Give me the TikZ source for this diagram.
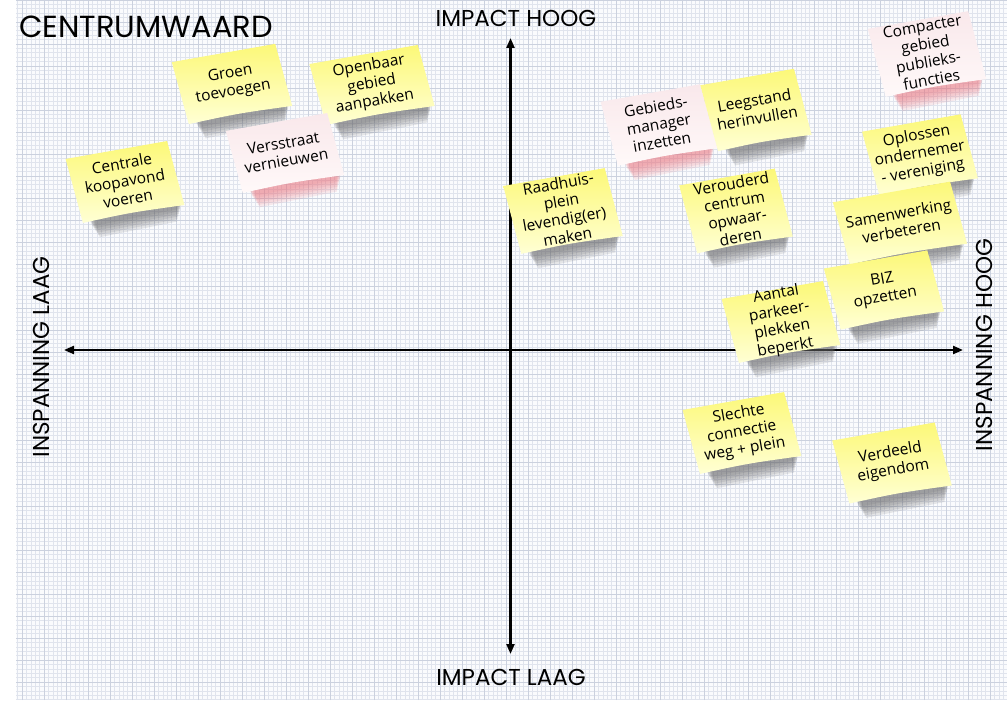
\documentclass[tikz,border=0pt]{standalone}
\usepackage{fontspec}
\setmainfont{Open Sans}
\newfontfamily\gothic{Poppins}
\usetikzlibrary{arrows.meta}
\definecolor{gridbg}{RGB}{250,251,253}
\definecolor{gridminor}{RGB}{224,228,237}
\definecolor{gridmajor}{RGB}{203,209,222}
\definecolor{ytop}{RGB}{252,248,120}
\definecolor{ybot}{RGB}{255,255,212}
\definecolor{ptop}{RGB}{249,232,235}
\definecolor{pbot}{RGB}{255,249,249}
\definecolor{yshadow}{RGB}{100,100,100}
\definecolor{pshadow}{RGB}{235,120,130}
\tikzset{
  axisline/.style={line width=2.2pt, black, {Triangle[length=10pt,width=8pt]}-{Triangle[length=10pt,width=8pt]}},
  axislabel/.style={font=\gothic\fontsize{23}{25}\selectfont, inner sep=0pt},
  titlelabel/.style={font=\gothic\fontsize{30.5}{32}\selectfont, inner sep=0pt},
  notetext/.style={transform shape, align=center, inner sep=0pt, font=\fontsize{15.5}{18}\selectfont}
}
\newcommand\stickynote[9]{%
\begin{scope}[shift={(#2,#3)}, rotate=10]
  \pgfmathsetmacro\nhw{#4/2}\pgfmathsetmacro\nhh{#5/2}
  \foreach \i in {0,...,5} {
    \fill[#8, opacity=0.14] ({-\nhw+9+\i}, {\nhh-6}) -- ({\nhw+1-\i}, {\nhh-6}) -- ({\nhw-2-\i}, {\nhh+3+2.4*\i}) -- ({-\nhw+12+\i},{\nhh+5+2.4*\i}) -- cycle;
  }
  \shade[top color=#6, bottom color=#7] ({-\nhw-3},{-\nhh}) -- ({\nhw-3},{-\nhh}) -- ({\nhw+3},{\nhh}) .. controls (0,{\nhh-2}) .. ({-\nhw+3},{\nhh}) -- cycle;
  \node[notetext] (#1) at (0,-1) {#9};
\end{scope}}
\begin{document}
\begin{tikzpicture}[x=1pt,y=-1pt]
\useasboundingbox (0,0) rectangle (1007,706);
% grid background
\fill[gridbg] (16,0) rectangle (1007,700);
\begin{scope}[y=1pt]
\draw[gridminor, line width=0.6pt, step=4.4] (16,-700) grid (1007,0);
\draw[gridmajor, line width=0.7pt, step=22] (16,-700) grid (1007,0);
\end{scope}
% title
\node[titlelabel, anchor=west] (title) at (19,27) {CENTRUMWAARD};
% axes
\coordinate (ytopc) at (510.5,38);
\coordinate (ybotc) at (510.5,654);
\coordinate (xleft) at (64,350);
\coordinate (xright) at (963,350);
\draw[axisline] (ybotc) -- (ytopc);
\draw[axisline] (xleft) -- (xright);
\node[axislabel] (ihoog) at (516,18) {IMPACT HOOG};
\node[axislabel] (ilaag) at (511,677) {IMPACT LAAG};
\node[axislabel, rotate=90] (slaag) at (41,357) {INSPANNING LAAG};
\node[axislabel, rotate=90] (shoog) at (984,345) {INSPANNING HOOG};
% notes
\stickynote{groen}{232}{84}{105}{64}{ytop}{ybot}{yshadow}{Groen\\toevoegen}
\stickynote{openbaar}{372}{85}{110}{63}{ytop}{ybot}{yshadow}{Openbaar\\gebied\\aanpakken}
\stickynote{versstraat}{285}{153}{103}{64}{ptop}{pbot}{pshadow}{Versstraat\\vernieuwen}
\stickynote{centrale}{125}{182}{103}{66}{ytop}{ybot}{yshadow}{Centrale\\koopavond\\voeren}
\stickynote{gebieds}{659}{125}{101}{66}{ptop}{pbot}{pshadow}{Gebieds-\\manager\\inzetten}
\stickynote{leegstand}{756}{110}{95}{68}{ytop}{ybot}{yshadow}{Leegstand\\herinvullen}
\stickynote{compacter}{927}{54}{102}{70}{ptop}{pbot}{pshadow}{Compacter\\gebied\\publieks-\\functies}
\stickynote{oplossen}{920}{155}{100}{66}{ytop}{ybot}{yshadow}{Oplossen\\ondernemer\\- vereniging}
\stickynote{raadhuis}{563}{211}{103}{70}{ytop}{ybot}{yshadow}{Raadhuis-\\plein\\levendig(er)\\maken}
\stickynote{verouderd}{736}{211}{97}{70}{ytop}{ybot}{yshadow}{Verouderd\\centrum\\opwaar-\\deren}
\stickynote{samenwerking}{900}{223}{119}{64}{ytop}{ybot}{yshadow}{Samenwerking\\verbeteren}
\stickynote{biz}{884}{290}{105}{63}{ytop}{ybot}{yshadow}{BIZ\\opzetten}
\stickynote{aantal}{781}{322}{103}{66}{ytop}{ybot}{yshadow}{Aantal\\parkeer-\\plekken\\beperkt}
\stickynote{slechte}{742}{433}{103}{66}{ytop}{ybot}{yshadow}{Slechte\\connectie\\weg + plein}
\stickynote{verdeeld}{892}{463}{104}{65}{ytop}{ybot}{yshadow}{Verdeeld\\eigendom}
\end{tikzpicture}
\end{document}
